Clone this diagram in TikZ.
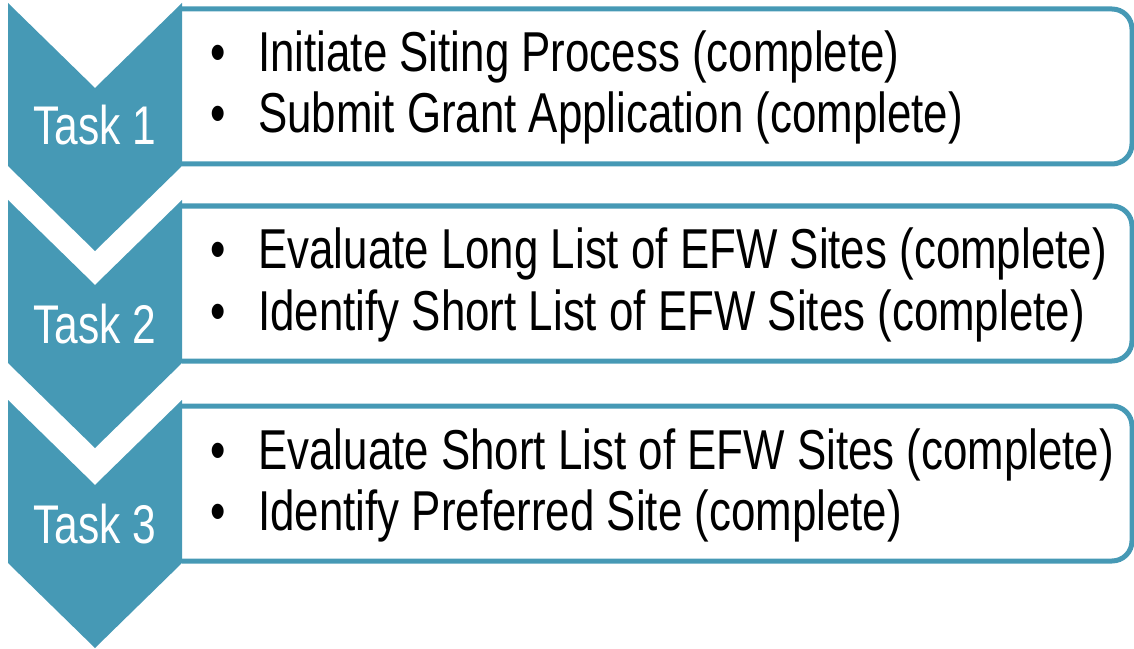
\documentclass[tikz,border=0pt]{standalone}
\usepackage{fontspec}
\setmainfont[FakeStretch=0.78]{Liberation Sans}
\usepackage{tikz}
\definecolor{taskblue}{RGB}{70,153,181}
\tikzset{
  chev/.style={fill=taskblue, draw=none},
  boxline/.style={draw=taskblue, line width=1mm, rounded corners=4mm},
  tasklabel/.style={text=white, anchor=base, inner sep=0pt, font=\fontsize{31}{36}\selectfont},
  item/.style={anchor=base west, inner sep=0pt, font=\fontsize{32}{38}\selectfont},
  dot/.style={anchor=base, inner sep=0pt, font=\fontsize{32}{38}\selectfont}
}

\begin{document}
\begin{tikzpicture}[x=0.2mm, y=-0.2mm]
      \useasboundingbox (0,0) rectangle (1134,649);
      % boxes
      \draw[boxline] (182,9) -- (1132,9) -- (1132,164) -- (182,164);
      \draw[boxline] (182,206) -- (1132,206) -- (1132,361) -- (182,361);
      \draw[boxline] (182,406) -- (1132,406) -- (1132,561) -- (182,561);
      % chevrons
      \fill[chev] (8,3) -- (95,88) -- (182,3) -- (182,166) -- (95,251) -- (8,166) -- cycle;
      \fill[chev] (8,200) -- (95,285) -- (182,200) -- (182,363) -- (95,448) -- (8,363) -- cycle;
      \fill[chev] (8,400) -- (95,485) -- (182,400) -- (182,563) -- (95,648) -- (8,563) -- cycle;
      \node[tasklabel] (task1) at (95,145) {Task 1};
      \node[tasklabel] (task2) at (95,343) {Task 2};
      \node[tasklabel] (task3) at (95,543) {Task 3};
      % task 1
      \node[dot] (d1a) at (218,72) {•};
      \node[dot] (d1b) at (218,133) {•};
      \node[item] (i1a) at (258,72) {Initiate Siting Process (complete)};
      \node[item] (i1b) at (258,133) {Submit Grant Application (complete)};
      % task 2
      \node[dot] (d2a) at (218,269) {•};
      \node[dot] (d2b) at (218,330) {•};
      \node[item] (i2a) at (258,269) {Evaluate Long List of EFW Sites (complete)};
      \node[item] (i2b) at (258,330) {Identify Short List of EFW Sites (complete)};
      % task 3
      \node[dot] (d3a) at (218,469) {•};
      \node[dot] (d3b) at (218,530) {•};
      \node[item] (i3a) at (258,469) {Evaluate Short List of EFW Sites (complete)};
      \node[item] (i3b) at (258,530) {Identify Preferred Site (complete)};
\end{tikzpicture}
\end{document}
